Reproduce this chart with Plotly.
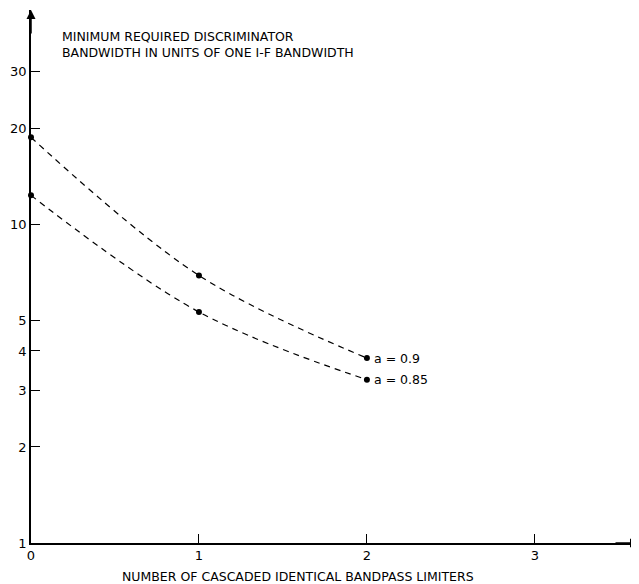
import plotly.graph_objects as go
import math

limiters = [0, 1, 2]
bw_a090 = [18.7, 6.9, 3.8]
bw_a085 = [12.3, 5.3, 3.25]
series_labels = ["a = 0.9", "a = 0.85"]
y_ticks = [1, 2, 3, 4, 5, 10, 20, 30]
x_ticks = [0, 1, 2, 3]
x_tick_text = ["0", "1", "2", "3"]

FONT = "DejaVu Sans"

# the page body has an 8px margin; margins below are chosen with that in mind
L, R, T, B = 23, 8, 2, 49
W, H = 639, 584
PW, PH = W - L - R, H - T - B

fig = go.Figure()
for ys in (bw_a090, bw_a085):
    fig.add_trace(go.Scatter(
        x=limiters, y=ys, mode="lines+markers", cliponaxis=False,
        line=dict(color="black", width=1.2, dash="6px,5px", shape="spline", smoothing=1.0),
        marker=dict(color="black", size=6),
        showlegend=False, hoverinfo="skip"))

for ys, lab in zip((bw_a090, bw_a085), series_labels):
    fig.add_annotation(x=limiters[-1], y=math.log10(ys[-1]), text=lab, showarrow=False,
                       xanchor="left", yanchor="middle", xshift=5,
                       font=dict(family=FONT, size=12.5, color="black"))

# axis arrows
fig.add_annotation(x=0, y=1, xref="paper", yref="paper", ax=0, ay=25, axref="pixel", ayref="pixel",
                   showarrow=True, arrowhead=2, arrowsize=1.2, arrowwidth=1.5, arrowcolor="black", text="")
fig.add_annotation(x=1, y=0, xref="paper", yref="paper", ax=-25, ay=0, axref="pixel", ayref="pixel",
                   showarrow=True, arrowhead=2, arrowsize=1.2, arrowwidth=1.5, arrowcolor="black", text="")

fig.add_annotation(x=(52 - L) / PW, y=1 - (19 - T) / PH, xref="paper", yref="paper",
                   xanchor="left", yanchor="top", align="left", showarrow=False,
                   text="MINIMUM REQUIRED DISCRIMINATOR<br>BANDWIDTH IN UNITS OF ONE I-F BANDWIDTH",
                   font=dict(family=FONT, size=12.5, color="black"))

fig.add_annotation(x=(290 - L) / PW, y=0, xref="paper", yref="paper", xanchor="center", yanchor="middle",
                   yshift=-33, showarrow=False,
                   text="NUMBER OF CASCADED IDENTICAL BANDPASS LIMITERS",
                   font=dict(family=FONT, size=12.5, color="black"))

fig.update_layout(
    width=W, height=H,
    margin=dict(l=L, r=R, t=T, b=B, autoexpand=False),
    plot_bgcolor="white", paper_bgcolor="white",
    font=dict(family=FONT, size=12, color="black"),
    xaxis=dict(range=[0, 3.62], showgrid=False, zeroline=False, showline=True, automargin=False,
               linecolor="black", linewidth=1.5, ticks="inside", ticklen=9,
               tickcolor="black", tickwidth=1, tickvals=x_ticks, ticktext=x_tick_text,
               tickfont=dict(family=FONT, size=13)),
    yaxis=dict(type="log", range=[0, 1.671], showgrid=False, zeroline=False, showline=True, automargin=False,
               linecolor="black", linewidth=1.5, ticks="inside", ticklen=9,
               tickcolor="black", tickwidth=1, tickvals=y_ticks,
               ticktext=[str(v) for v in y_ticks], tickfont=dict(family=FONT, size=13)),
)

fig.write_html("out.html")
